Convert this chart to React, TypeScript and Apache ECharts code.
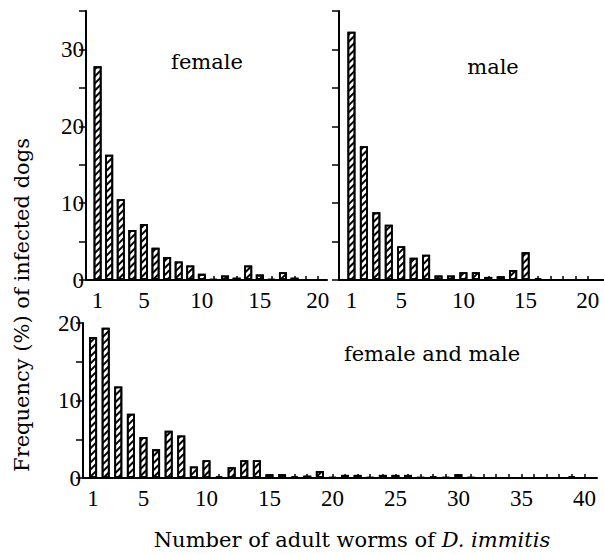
import React, { useEffect, useRef } from "react";
import * as echarts from "echarts";

const worms20 = [1, 2, 3, 4, 5, 6, 7, 8, 9, 10, 11, 12, 13, 14, 15, 16, 17, 18, 19, 20];
const worms40 = [
  1, 2, 3, 4, 5, 6, 7, 8, 9, 10, 11, 12, 13, 14, 15, 16, 17, 18, 19, 20,
  21, 22, 23, 24, 25, 26, 27, 28, 29, 30, 31, 32, 33, 34, 35, 36, 37, 38, 39, 40,
];
const femaleFreq = [27.8, 16.3, 10.5, 6.5, 7.3, 4.2, 3.0, 2.4, 1.9, 0.8, 0.1, 0.6, 0.3, 1.9, 0.7, 0.1, 1.0, 0.3, 0, 0];
const maleFreq = [32.3, 17.4, 8.8, 7.2, 4.4, 2.9, 3.3, 0.6, 0.6, 1.0, 1.0, 0.4, 0.5, 1.3, 3.6, 0.2, 0, 0, 0, 0];
const bothFreq = [
  18.2, 19.4, 11.8, 8.3, 5.3, 3.7, 6.1, 5.5, 1.5, 2.3, 0.2, 1.4, 2.3, 2.3, 0.5, 0.5, 0.2, 0.3, 0.9, 0.1,
  0.4, 0.4, 0.1, 0.4, 0.4, 0.4, 0.1, 0.2, 0.1, 0.5, 0.1, 0, 0, 0, 0, 0, 0, 0, 0.2, 0,
];
const topXLabels = [1, 5, 10, 15, 20];
const bottomXLabels = [1, 5, 10, 15, 20, 25, 30, 35, 40];
const topYLabels = [0, 10, 20, 30];
const bottomYLabels = [0, 10, 20];

const NUM_FONT = "Liberation Serif";
const WORD_FONT = "DejaVu Serif";

export default function App() {
  const ref = useRef<HTMLDivElement>(null);
  useEffect(() => {
    if (!ref.current) return;
    const chart = echarts.init(ref.current, null, { renderer: "svg" });

    const hatch = {
      symbol: "rect",
      symbolSize: 1,
      color: "#000",
      backgroundColor: "#fff",
      dashArrayX: [1, 0],
      dashArrayY: [1.5, 2.8],
      rotation: -Math.PI / 4,
    };
    const barStyle = {
      color: "#fff",
      borderColor: "#000",
      borderWidth: 1.8,
      decal: hatch,
    };

    const xAxisBase = (gridIndex: number, min: number, max: number, labels: number[], ticks: number[]) => ({
      type: "value",
      gridIndex,
      min,
      max,
      splitLine: { show: false },
      axisLine: { show: true, onZero: false, lineStyle: { color: "#000", width: 2 } },
      axisTick: { show: true, inside: true, length: 4, customValues: ticks, lineStyle: { color: "#000", width: 1.5 } },
      axisLabel: {
        show: true,
        customValues: labels,
        color: "#000",
        fontFamily: NUM_FONT,
        fontSize: 23,
        margin: 9,
      },
    });
    const yAxisBase = (gridIndex: number, max: number, labels: number[], showLabels: boolean) => ({
      type: "value",
      gridIndex,
      min: 0,
      max,
      interval: 5,
      splitLine: { show: false },
      axisLine: { show: true, onZero: false, lineStyle: { color: "#000", width: 2 } },
      axisTick: { show: true, length: 7, lineStyle: { color: "#000", width: 1.5 } },
      axisLabel: {
        show: showLabels,
        customValues: labels,
        color: "#000",
        fontFamily: NUM_FONT,
        fontSize: 23,
        margin: 2,
      },
    });

    const word = (text: string, x: number, y: number) => ({
      type: "text",
      x,
      y,
      style: {
        text,
        fill: "#000",
        font: `21px "${WORD_FONT}"`,
        align: "center",
        verticalAlign: "middle",
      },
    });

    chart.setOption({
      animation: false,
      backgroundColor: "#fff",
      grid: [
        { left: 86, top: 11, width: 241, height: 269 },
        { left: 339, top: 11, width: 265, height: 269 },
        { left: 83, top: 323, width: 514, height: 155 },
      ],
      xAxis: [
        xAxisBase(0, 0, 20.8, topXLabels, worms20),
        xAxisBase(1, 0, 21.3, topXLabels, worms20),
        xAxisBase(2, 0.2, 41, bottomXLabels, worms40),
      ],
      yAxis: [
        yAxisBase(0, 35, topYLabels, true),
        yAxisBase(1, 35, topYLabels, false),
        yAxisBase(2, 20, bottomYLabels, true),
      ],
      series: [
        {
          type: "bar",
          xAxisIndex: 0,
          yAxisIndex: 0,
          barWidth: 8,
          itemStyle: barStyle,
          data: worms20.map((w, i) => [w, femaleFreq[i]]),
        },
        {
          type: "bar",
          xAxisIndex: 1,
          yAxisIndex: 1,
          barWidth: 8,
          itemStyle: barStyle,
          data: worms20.map((w, i) => [w, maleFreq[i]]),
        },
        {
          type: "bar",
          xAxisIndex: 2,
          yAxisIndex: 2,
          barWidth: 8,
          itemStyle: barStyle,
          data: worms40.map((w, i) => [w, bothFreq[i]]),
        },
      ],
      graphic: [
        word("female", 207, 62),
        word("male", 493, 67),
        word("female and male", 432, 354),
        {
          type: "text",
          x: 22,
          y: 305,
          rotation: Math.PI / 2,
          style: {
            text: "Frequency (%) of infected dogs",
            fill: "#000",
            font: `21px "${WORD_FONT}"`,
            align: "center",
            verticalAlign: "middle",
          },
        },
        {
          type: "text",
          x: 352,
          y: 540,
          style: {
            text: "{n|Number of adult worms of }{i|D. immitis}",
            fill: "#000",
            align: "center",
            verticalAlign: "middle",
            rich: {
              n: { fontFamily: WORD_FONT, fontSize: 21, fill: "#000" },
              i: { fontFamily: WORD_FONT, fontSize: 21, fontStyle: "italic", fill: "#000" },
            },
          },
        },
      ],
    });
    return () => chart.dispose();
  }, []);
  return <div ref={ref} style={{ position: "fixed", left: 0, top: 0, width: 604, height: 555 }} />;
}
